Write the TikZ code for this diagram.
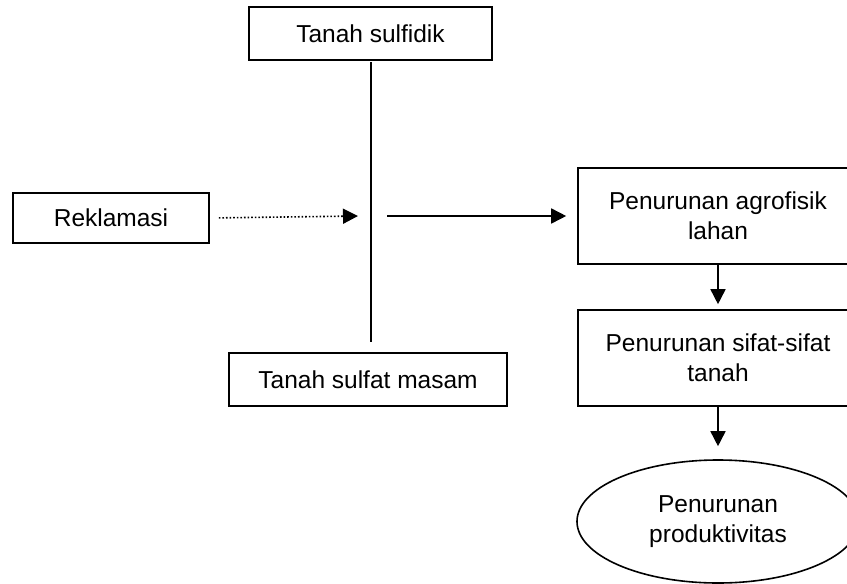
\documentclass[tikz,border=0pt]{standalone}
\usepackage{fontspec}
\setmainfont{Liberation Sans}
\usetikzlibrary{arrows.meta,shapes.geometric}
\begin{document}
\begin{tikzpicture}[x=1pt,y=-1pt,
  line width=1.6pt,
  every node/.style={font=\fontsize{24.5}{30}\selectfont, align=center, inner sep=0pt},
  boxnode/.style={draw, rectangle},
  ovalnode/.style={draw, ellipse},
  arr/.style={-{Triangle[length=15pt,width=15pt]}},
  dotarr/.style={dotted, -{Triangle[length=15pt,width=15pt]}}]
\useasboundingbox (0,0) rectangle (847,584);
\clip (0,0) rectangle (847,584);
\node[boxnode, minimum width=243pt, minimum height=53pt] (sulf) at (370.5,33.5) {Tanah sulfidik};
\node[boxnode, minimum width=196pt, minimum height=50pt] (rek) at (111,218) {Reklamasi};
\node[boxnode, minimum width=278pt, minimum height=53pt] (masam) at (368,379.5) {Tanah sulfat masam};
\node[boxnode, minimum width=280pt, minimum height=96pt] (agro) at (718,216) {Penurunan agrofisik\\lahan};
\node[boxnode, minimum width=280pt, minimum height=96pt] (sifat) at (718,358) {Penurunan sifat-sifat\\tanah};
\node[ovalnode, minimum width=282pt, minimum height=123pt] (prod) at (718,521.5) {Penurunan\\produktivitas};
\coordinate (vtop) at (371,62);
\coordinate (vbot) at (371,342);
\coordinate (dotend) at (358,216);
\coordinate (solstart) at (387,216);
\draw (vtop) -- (vbot);
\draw[dotarr, shorten <=9pt] (rek.east) -- (dotend);
\draw[arr, shorten >=11pt] (solstart) -- (agro.west |- solstart);
\draw[arr, shorten >=5pt] (agro.south) -- (sifat.north);
\draw[arr, shorten >=13pt] (sifat.south) -- (prod.north);
\end{tikzpicture}
\end{document}
